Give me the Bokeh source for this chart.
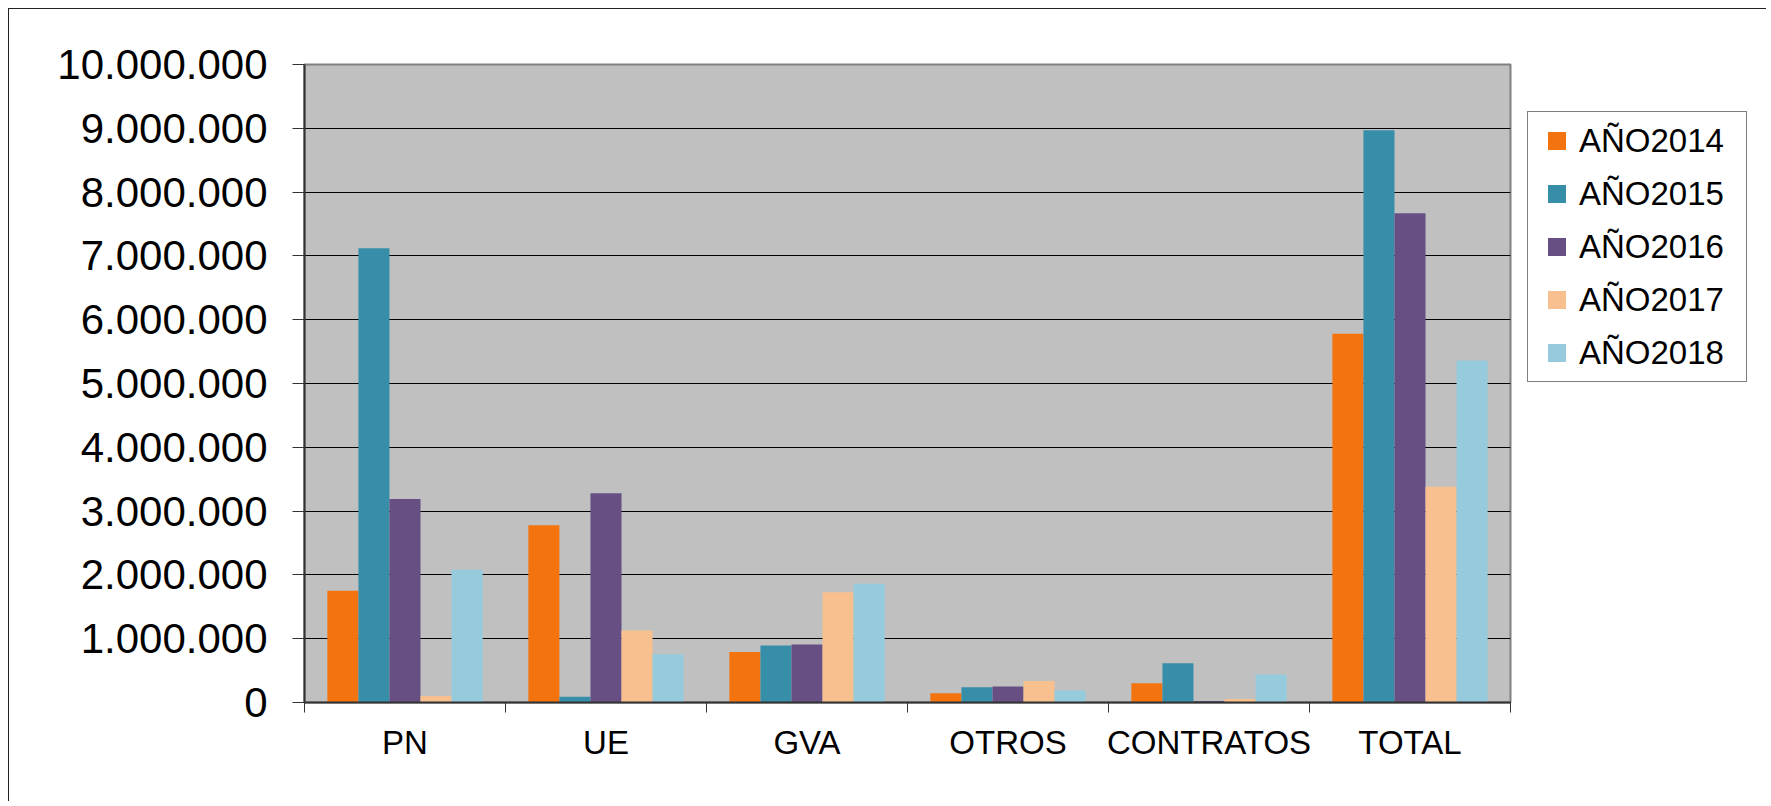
import numpy as np
from bokeh.plotting import figure
from bokeh.layouts import row
from bokeh.models import Range1d, FixedTicker, Legend, LegendItem, ColumnDataSource
from bokeh.transform import dodge
from bokeh.embed import file_html
from bokeh.resources import INLINE

# ---- data ----
categories = ["PN", "UE", "GVA", "OTROS", "CONTRATOS", "TOTAL"]
series_names = ["AÑO2014", "AÑO2015", "AÑO2016", "AÑO2017", "AÑO2018"]
ano2014 = [1750000, 2780000, 790000, 145000, 300000, 5780000]
ano2015 = [7120000, 90000, 895000, 240000, 615000, 8970000]
ano2016 = [3190000, 3280000, 910000, 250000, 25000, 7670000]
ano2017 = [100000, 1130000, 1730000, 337000, 55000, 3380000]
ano2018 = [2080000, 755000, 1860000, 190000, 440000, 5360000]
series_values = [ano2014, ano2015, ano2016, ano2017, ano2018]
colors = ["#F3740E", "#378EA8", "#674F84", "#F9C08F", "#95CBDD"]
y_ticks = [0, 1000000, 2000000, 3000000, 4000000, 5000000,
           6000000, 7000000, 8000000, 9000000, 10000000]
y_tick_labels = ["0", "1.000.000", "2.000.000", "3.000.000", "4.000.000", "5.000.000",
                 "6.000.000", "7.000.000", "8.000.000", "9.000.000", "10.000.000"]

FONT = "Liberation Sans"

n_cat = len(categories)
cat_centers = [i + 0.5 for i in range(n_cat)]
cat_bounds = [i for i in range(n_cat + 1)]

data = {"x": cat_centers}
for name, vals in zip(series_names, series_values):
    data[name] = vals
src = ColumnDataSource(data)

H = 792
TOP, BOTTOM = 55, 99
p = figure(width=1503, height=H, output_backend="svg", toolbar_location=None,
           x_range=Range1d(0, n_cat), y_range=Range1d(0, 10000000),
           min_border_left=295, min_border_right=2, min_border_top=TOP,
           min_border_bottom=BOTTOM)

p.background_fill_color = "#C0C0C0"
p.border_fill_color = "white"
p.outline_line_color = "#808080"
p.outline_line_width = 2

bw = 0.1545
for k, (name, col) in enumerate(zip(series_names, colors)):
    off = (k - 2) * bw
    p.vbar(x=dodge("x", off, range=p.x_range), top=name, width=bw, source=src,
           fill_color=col, line_color=None)

# grid
p.xgrid.visible = False
p.ygrid.ticker = FixedTicker(ticks=y_ticks)
p.ygrid.grid_line_color = "black"
p.ygrid.grid_line_width = 1

# y axis
yax = p.yaxis[0]
yax.ticker = FixedTicker(ticks=y_ticks)
yax.major_label_overrides = {t: l for t, l in zip(y_ticks, y_tick_labels)}
yax.major_label_text_font = FONT
yax.major_label_text_font_size = "42px"
yax.major_label_text_color = "black"
yax.major_label_standoff = 25
yax.major_tick_out = 12
yax.major_tick_in = 0
yax.major_tick_line_color = "#333333"
yax.minor_tick_line_color = None
yax.axis_line_color = "#333333"
yax.axis_line_width = 2

# x axis
xax = p.xaxis[0]
xax.ticker = FixedTicker(ticks=cat_centers, minor_ticks=cat_bounds)
xax.major_label_overrides = {c: l for c, l in zip(cat_centers, categories)}
xax.major_label_text_font = FONT
xax.major_label_text_font_size = "33px"
xax.major_label_text_color = "black"
xax.major_label_standoff = 11
xax.major_tick_out = 10
xax.major_tick_in = 0
xax.major_tick_line_color = None
xax.minor_tick_out = 10
xax.minor_tick_in = 0
xax.minor_tick_line_color = "#333333"
xax.axis_line_color = "#333333"
xax.axis_line_width = 2

# legend panel (second figure sharing the same data source)
p2 = figure(width=254, height=H, output_backend="svg", toolbar_location=None,
            x_axis_location=None, y_axis_location=None,
            min_border_left=0, min_border_right=0, min_border_top=TOP,
            min_border_bottom=BOTTOM)
p2.outline_line_color = None
p2.background_fill_color = "white"
p2.border_fill_color = "white"
p2.xgrid.visible = False
p2.ygrid.visible = False

items = []
for k, (name, col) in enumerate(zip(series_names, colors)):
    proxy = p2.scatter(x="x", y=name, source=src, marker="square", size=0,
                       fill_color=col, line_color=None)
    items.append(LegendItem(label=name, renderers=[proxy]))

legend = Legend(items=items, location=(15, 320), orientation="vertical")
legend.label_text_font = FONT
legend.label_text_font_size = "33px"
legend.label_text_color = "black"
legend.border_line_color = "black"
legend.border_line_width = 1
legend.background_fill_color = "white"
legend.background_fill_alpha = 1
legend.padding = 6
legend.margin = 0
legend.spacing = 8
legend.glyph_height = 45
legend.glyph_width = 45
legend.label_height = 45
legend.label_width = 161
legend.label_standoff = 0
p2.add_layout(legend, "center")

layout = row(p, p2)
layout.margin = (8, 0, 0, 8)
layout.styles = {"border-left": "1px solid #222222", "border-top": "1px solid #222222"}

open("out.html", "w").write(file_html(layout, INLINE))
